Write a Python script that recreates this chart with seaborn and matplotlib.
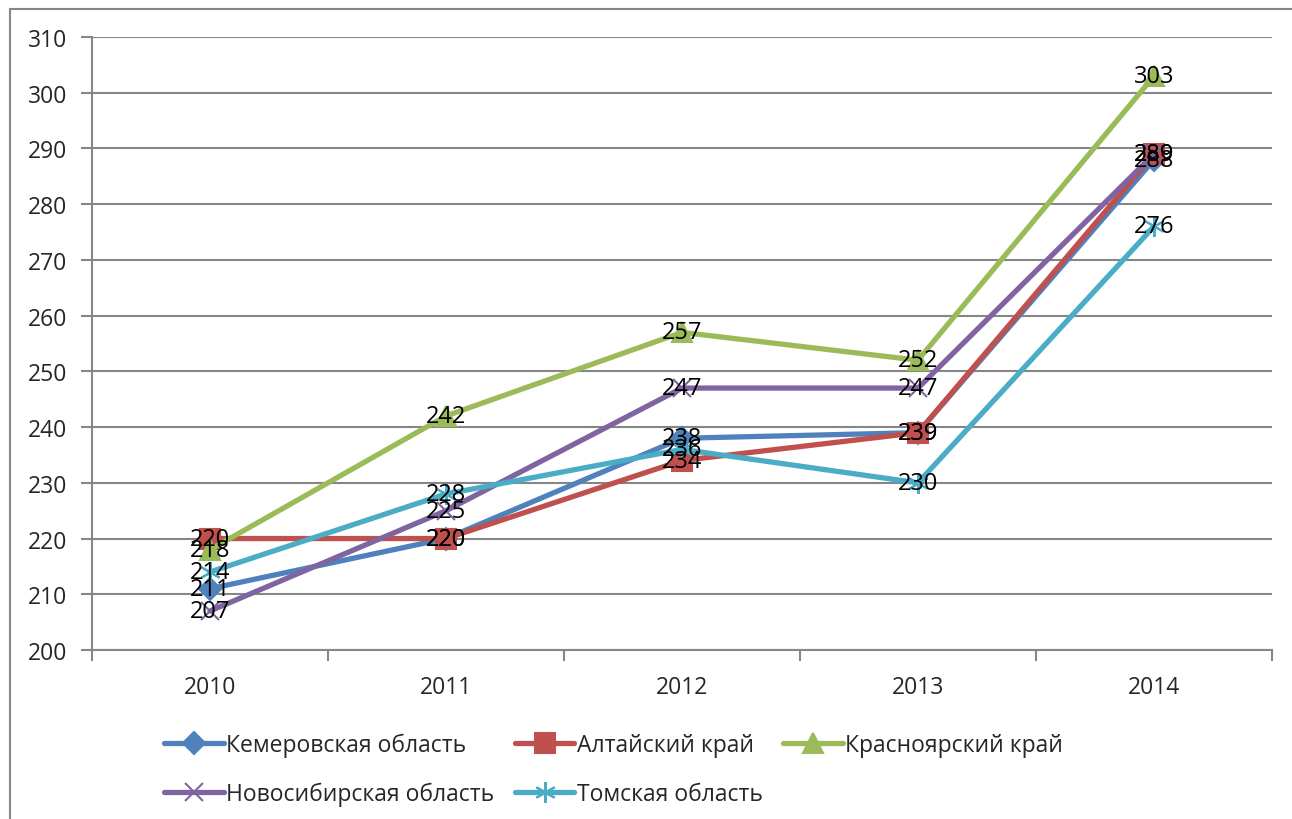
import matplotlib
matplotlib.use("Agg")
import matplotlib.pyplot as plt
import seaborn as sns
import pandas as pd
from matplotlib.patches import Rectangle
from matplotlib.ticker import FixedLocator

years = ["2010", "2011", "2012", "2013", "2014"]
regions = ["Кемеровская область", "Алтайский край", "Красноярский край",
           "Новосибирская область", "Томская область"]
kemerovo = [211, 220, 238, 239, 288]
altai = [220, 220, 234, 239, 289]
krasnoyarsk = [218, 242, 257, 252, 303]
novosibirsk = [207, 225, 247, 247, 289]
tomsk = [214, 228, 236, 230, 276]
series = [kemerovo, altai, krasnoyarsk, novosibirsk, tomsk]

colors = ["#4F81BD", "#C0504D", "#9BBB59", "#8064A2", "#4BACC6"]
markers = ["D", "s", "^", "x", (6, 2, 0)]
msizes = [11, 15, 14, 13, 15]

rows = []
for name, vals in zip(regions, series):
    for i, v in enumerate(vals):
        rows.append({"x": i, "value": v, "region": name})
df = pd.DataFrame(rows)

sns.set_theme(style="white")
plt.rcParams['font.family'] = ['Open Sans', 'DejaVu Sans']

fig = plt.figure(figsize=(12.92, 8.2), dpi=100)
ax = fig.add_axes([92/1292, 1-651/820, (1272-92)/1292, (651-38)/820])

for name, col, mk, ms in zip(regions, colors, markers, msizes):
    sub = df[df.region == name]
    sns.lineplot(data=sub, x="x", y="value", ax=ax, color=col, marker=mk,
                 markersize=ms, linewidth=3.8, markeredgecolor=col,
                 markeredgewidth=1.5, label=name, zorder=3)

for name, vals in zip(regions, series):
    for i, v in enumerate(vals):
        ax.text(i, v, str(v), ha="center", va="center", fontsize=17,
                color="black", zorder=5)

ax.set_xlim(-0.5, 4.5)
ax.set_ylim(200, 310)
ax.set_yticks(range(200, 311, 10))
ax.set_xticks(range(5))
ax.set_xticklabels(years)
ax.xaxis.set_minor_locator(FixedLocator([-0.5 + k for k in range(6)]))
ax.tick_params(axis="x", which="major", length=0, pad=18, labelsize=16.5)
ax.tick_params(axis="x", which="minor", length=8, width=1.5, color="#868686", direction="out", bottom=True)
ax.tick_params(axis="y", which="major", length=8, width=1.5, color="#868686", direction="out", left=True, labelsize=16.5, pad=10)
ax.grid(axis="y", color="#868686", linewidth=1.5)
ax.set_axisbelow(True)
ax.set_xlabel("")
ax.set_ylabel("")
for s in ["top", "right"]:
    ax.spines[s].set_visible(False)
for s in ["left", "bottom"]:
    ax.spines[s].set_color("#868686")
    ax.spines[s].set_linewidth(1.5)

handles, labels = ax.get_legend_handles_labels()
order = [0, 3, 1, 4, 2]
ax.legend([handles[i] for i in order], [labels[i] for i in order],
          loc="upper left", bbox_to_anchor=(155/1292, 1-724/820),
          bbox_transform=fig.transFigure, ncol=3, frameon=False,
          fontsize=16.5, handlelength=2.6, handletextpad=0.1,
          columnspacing=0.9, labelspacing=1.1, borderaxespad=0)

fig.patches.append(Rectangle((10/1292, -0.1), 1.2, 1-10/820+0.1, transform=fig.transFigure,
                             fill=False, edgecolor="#868686", linewidth=1.5))

fig.savefig("out.png", dpi=100)
